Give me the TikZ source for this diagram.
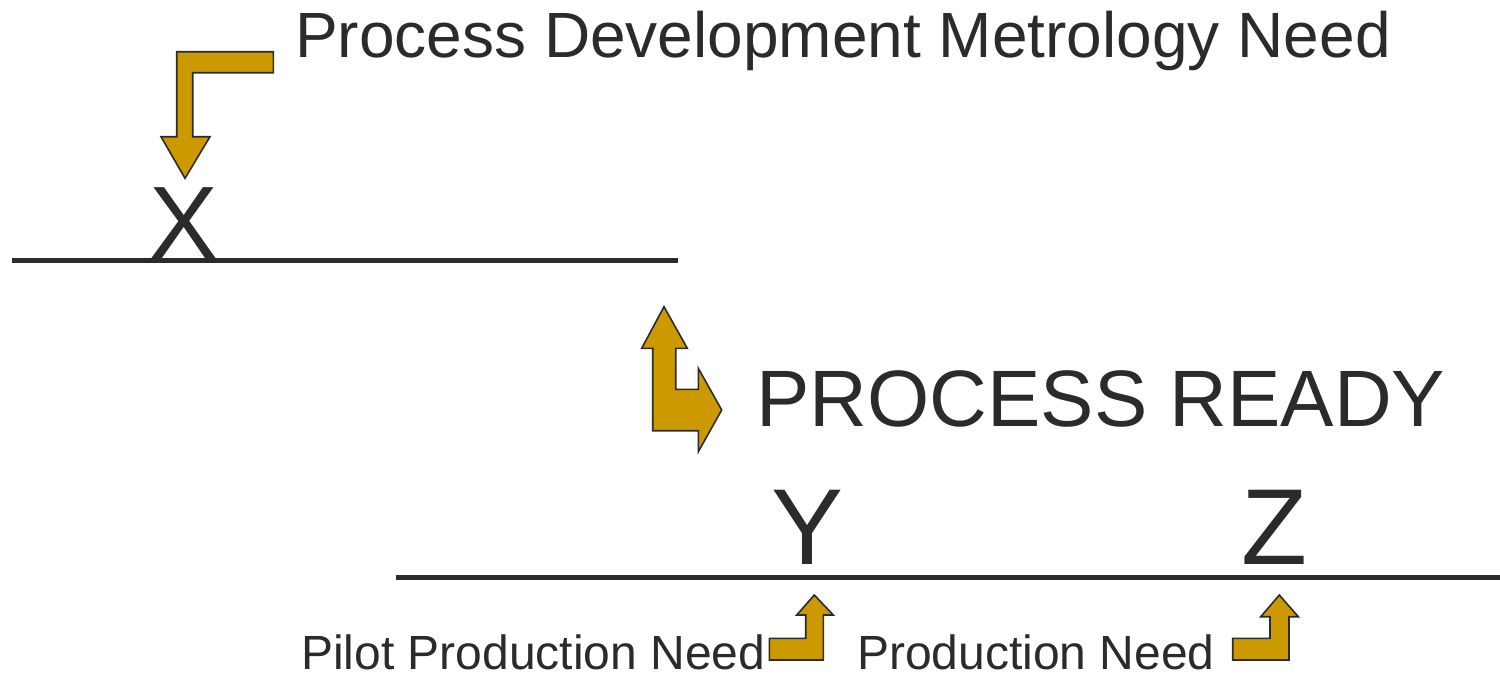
\documentclass[tikz,border=0pt]{standalone}
\usepackage{fontspec}
\setmainfont{Liberation Sans}
\definecolor{gold}{HTML}{CC9900}
\definecolor{ink}{HTML}{2B2B2B}
\begin{document}
\begin{tikzpicture}[x=1pt,y=-1pt,
  label/.style={inner sep=0pt,text=ink,anchor=base west},
  mark letter/.style={inner sep=0pt,text=ink,anchor=base},
  bentarrow/.style={fill=gold,draw=ink,line width=1.6pt,line join=miter},
  timeline/.style={draw=ink,line width=4.5pt}]
\useasboundingbox (0,0) rectangle (1500,675);

% labels
\node[label,font=\fontsize{64}{64}\selectfont] (dev) at (295,57) {Process Development Metrology Need};
\node[label,font=\fontsize{80}{80}\selectfont] (ready) at (756,426) {PROCESS READY};
\node[label,font=\fontsize{48}{48}\selectfont] (pilot) at (301,669) {Pilot Production Need};
\node[label,font=\fontsize{48}{48}\selectfont] (prod) at (857,669) {Production Need};

% milestone letters
\node[mark letter,font=\fontsize{103}{103}\selectfont] (x) at (184.3,258) {X};
\node[mark letter,font=\fontsize{108}{108}\selectfont] (y) at (808,564.3) {Y};
\node[mark letter,font=\fontsize{108}{108}\selectfont] (z) at (1274.5,564.3) {Z};

% time lines
\coordinate (l1a) at (12,260.5);  \coordinate (l1b) at (678,260.5);
\coordinate (l2a) at (396,577.5); \coordinate (l2b) at (1500,577.5);
\draw[timeline] (l1a) -- (l1b);
\draw[timeline] (l2a) -- (l2b);

% bent arrow down onto X
\draw[bentarrow] (273.3,51.7) -- (176.7,51.7) -- (176.7,136.7) -- (161,136.7)
  -- (185,178.3) -- (210,136.7) -- (192.7,136.7) -- (192.7,72.7) -- (273.3,72.7) -- cycle;

% up/right double arrow
\draw[bentarrow] (664,306.7) -- (687.3,348.3) -- (675.7,348.3) -- (675.7,389.3)
  -- (698.3,389.3) -- (698.3,368.3) -- (721.7,410) -- (698.3,451.7) -- (698.3,430.7)
  -- (652.7,430.7) -- (652.7,348.3) -- (641.7,348.3) -- cycle;

% small bent arrows up to Y and Z
\draw[bentarrow] (814.3,595) -- (833.3,615) -- (823.3,615) -- (823.3,660) -- (769.3,660)
  -- (769.3,638.3) -- (805.7,638.3) -- (805.7,615) -- (796.7,615) -- cycle;
\draw[bentarrow] (1279.3,595) -- (1298.3,616.7) -- (1289,616.7) -- (1289,660) -- (1232.7,660)
  -- (1232.7,638.3) -- (1270,638.3) -- (1270,616.7) -- (1260.7,616.7) -- cycle;
\end{tikzpicture}
\end{document}
